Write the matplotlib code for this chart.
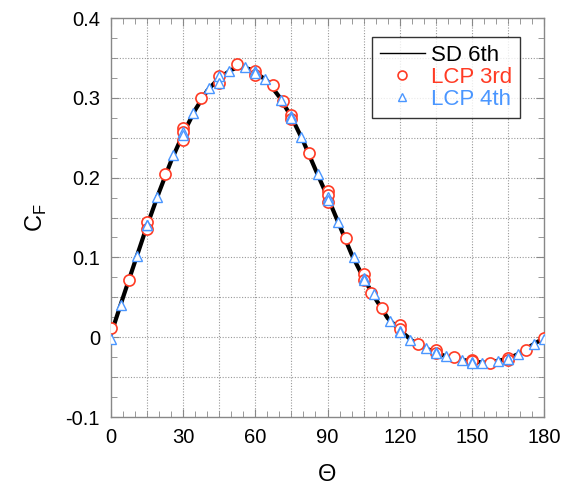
import matplotlib
matplotlib.use("Agg")
import matplotlib.pyplot as plt
from matplotlib.ticker import MultipleLocator

plt.rcParams['font.family'] = ['Liberation Sans', 'DejaVu Sans']

# SD 6th (continuous curve)
sd_theta = [0, 5, 10, 15, 20, 25, 30, 35, 40, 45, 50, 52.5, 55, 57.5, 60, 65, 70, 75,
            80, 85, 90, 95, 100, 105, 110, 115, 120, 125, 130, 135, 140, 145, 150,
            155, 160, 165, 170, 175, 180]
sd_cf = [0.004, 0.050, 0.095, 0.140, 0.182, 0.221, 0.255, 0.285, 0.309, 0.325, 0.335,
         0.338, 0.338, 0.336, 0.332, 0.321, 0.301, 0.276, 0.245, 0.210, 0.176, 0.140,
         0.104, 0.074, 0.048, 0.024, 0.009, -0.004, -0.013, -0.019, -0.025, -0.028,
         -0.030, -0.032, -0.030, -0.027, -0.020, -0.010, -0.001]

# LCP 3rd (circles)
lcp3_theta = [0, 7.5, 15, 15, 22.5, 30, 30, 30, 37.5, 45, 45, 52.5, 60, 60, 67.5, 71.5,
              75, 75, 82.5, 90, 90, 90, 97.5, 105, 105, 108, 112.5, 120, 120, 127.5,
              135, 135, 142.5, 150, 150, 157.5, 165, 165, 172.5, 180]
lcp3_cf = [0.011, 0.072, 0.144, 0.135, 0.205, 0.262, 0.257, 0.247, 0.300, 0.327, 0.319,
           0.342, 0.333, 0.329, 0.316, 0.296, 0.279, 0.274, 0.231, 0.183, 0.178, 0.170,
           0.124, 0.079, 0.072, 0.056, 0.037, 0.015, 0.010, -0.008, -0.016, -0.020,
           -0.025, -0.028, -0.030, -0.032, -0.026, -0.028, -0.016, -0.001]

# LCP 4th (triangles)
lcp4_theta = [0, 4.15, 10.85, 15, 15, 19.15, 25.85, 30, 30, 34.15, 40.85, 45, 45, 49.15,
              55.85, 60, 60, 64.15, 70.85, 75, 75, 79.15, 85.85, 90, 90, 94.15, 100.85,
              105, 105, 109.15, 115.85, 120, 120, 124.15, 130.85, 135, 135, 139.15,
              145.85, 150, 150, 154.15, 160.85, 165, 165, 169.15, 175.85, 180]
lcp4_cf = [-0.002, 0.040, 0.102, 0.141, 0.140, 0.176, 0.228, 0.257, 0.254, 0.281, 0.312,
           0.327, 0.318, 0.334, 0.339, 0.334, 0.331, 0.323, 0.297, 0.277, 0.275, 0.251,
           0.205, 0.176, 0.172, 0.145, 0.101, 0.074, 0.072, 0.054, 0.020, 0.008, 0.007,
           -0.003, -0.014, -0.018, -0.020, -0.024, -0.029, -0.031, -0.032, -0.032,
           -0.030, -0.027, -0.027, -0.021, -0.009, -0.002]

red = '#ff3b24'
blue = '#4a96ff'

fig = plt.figure(figsize=(5.63, 4.87), dpi=100)
ax = fig.add_axes([0.1972, 0.1437, 0.7691, 0.8193])

ax.plot(sd_theta, sd_cf, color='black', lw=3.0, label='SD 6th', zorder=2)
ax.plot(lcp3_theta, lcp3_cf, ls='none', marker='o', ms=8, mfc='white', mec=red,
        mew=1.2, label='LCP 3rd', zorder=3)
ax.plot(lcp4_theta, lcp4_cf, ls='none', marker='^', ms=7.5, mfc='white', mec=blue,
        mew=1.0, label='LCP 4th', zorder=4)

ax.set_xlim(0, 180)
ax.set_ylim(-0.1, 0.4)
ax.xaxis.set_major_locator(MultipleLocator(30))
ax.xaxis.set_minor_locator(MultipleLocator(5))
ax.yaxis.set_major_locator(MultipleLocator(0.1))
ax.yaxis.set_minor_locator(MultipleLocator(0.025))
ax.set_yticks([-0.1, 0, 0.1, 0.2, 0.3, 0.4])
ax.set_yticklabels(['-0.1', '0', '0.1', '0.2', '0.3', '0.4'])

# gridlines every 15 deg and 0.05
for gx in range(15, 180, 15):
    ax.axvline(gx, color='#999999', lw=0.8, ls=(0, (1, 1.5)), zorder=1)
for i in range(1, 10):
    ax.axhline(-0.1 + 0.05 * i, color='#999999', lw=0.8, ls=(0, (1, 1.5)), zorder=1)

ax.tick_params(which='both', direction='in', top=True, right=True, color='#888888',
               labelsize=14.5, pad=8)
ax.tick_params(which='major', length=6)
ax.tick_params(which='minor', length=4)
for s in ax.spines.values():
    s.set_color('#888888')
    s.set_linewidth(1.0)

ax.set_xlabel('Θ', fontsize=17, labelpad=12)
ax.set_ylabel('C$_\\mathregular{F}$', fontsize=17, labelpad=12)

leg = ax.legend(loc='upper right', bbox_to_anchor=(0.945, 0.952), fontsize=16,
                frameon=True, fancybox=False, edgecolor='black', handlelength=2.0,
                handletextpad=0.3, borderpad=0.35, labelspacing=0.05, borderaxespad=0,
                markerscale=0.8)
leg.get_frame().set_linewidth(1.0)
leg.legend_handles[0].set_linewidth(1.0)
for txt, c in zip(leg.get_texts(), ['black', red, blue]):
    txt.set_color(c)

fig.savefig('out.png', dpi=100, facecolor='white')
